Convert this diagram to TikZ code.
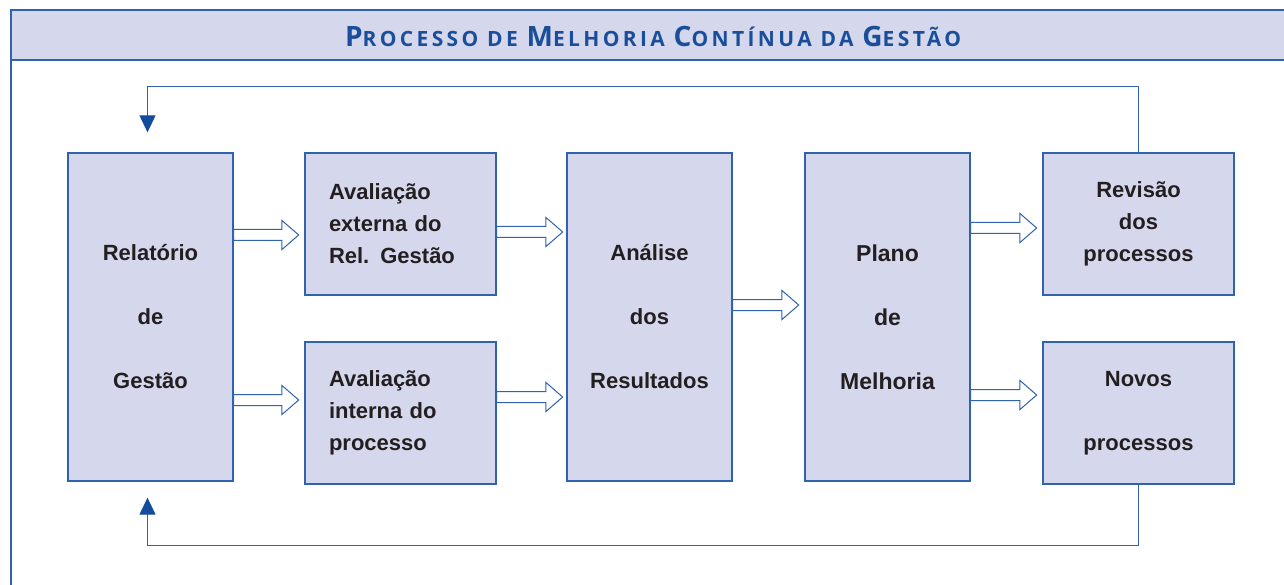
\documentclass[tikz,border=0pt]{standalone}
\usepackage{fontspec}
\setmainfont{Liberation Sans}
\newfontfamily\titlefont{Open Sans}[LetterSpace=16]
\usetikzlibrary{arrows.meta,shapes.arrows}

\definecolor{boxfill}{HTML}{D5D8EC}
\definecolor{boxline}{HTML}{2F63AE}
\definecolor{tipblue}{HTML}{124C9E}
\definecolor{titleblue}{HTML}{1A4E9B}
\definecolor{boxtext}{HTML}{231F20}

\newcommand\capbig[1]{{\fontsize{28}{28}\selectfont #1}}
\newcommand\capsmall[1]{{\fontsize{21}{21}\selectfont #1}}

\begin{document}
\begin{tikzpicture}[x=1pt,y=-1pt,>=Stealth,
    % Define the style for the boxes
    block/.style={rectangle, fill=boxfill, draw=boxline, line width=1.3pt, inner sep=0pt,
        text=boxtext, align=center, font=\bfseries\fontsize{22}{32}\selectfont},
    tall block/.style={block, minimum width=165pt, minimum height=328pt},
    small block/.style={block, minimum width=191pt, minimum height=142pt},
    left block/.style={small block, text width=143pt, align=left},
    % Define the style for the hollow arrows and the feedback lines
    hollow arrow/.style={single arrow, fill=white, draw=boxline, line width=1pt, outer sep=0pt,
        inner xsep=0pt, inner ysep=5pt, minimum width=0pt, minimum height=65pt,
        single arrow head extend=9pt, single arrow tip angle=82, anchor=west},
    loop line/.style={draw=boxline, line width=1.2pt, -{Triangle[length=17pt,width=16pt,color=tipblue]}}
]

% Frame and title band
\clip (0,0) rectangle (1284,585);
\fill[boxfill] (11,10) rectangle (1300,60);
\draw[boxline, line width=1.3pt] (1300,10) -- (11,10) -- (11,600);
\draw[boxline, line width=1.3pt] (11,60) -- (1300,60);
\node[text=titleblue, font=\titlefont\bfseries, anchor=base] (title) at (653,47)
    {\capbig{P}\capsmall{ROCESSO DE }\capbig{M}\capsmall{ELHORIA }\capbig{C}\capsmall{ONTÍNUA DA }\capbig{G}\capsmall{ESTÃO}};

% The boxes of the process
\node[tall block] (rel) at (150.5,317) {Relatório\\[32pt]de\\[32pt]Gestão};
\node[left block] (ext) at (400.5,224) {Avaliação\\externa do\\Rel. Gestão};
\node[left block] (int) at (400.5,413) {Avaliação\\interna do\\processo};
\node[tall block] (ana) at (649.5,317) {Análise\\[32pt]dos\\[32pt]Resultados};
\node[tall block, font=\bfseries\fontsize{23}{32}\selectfont] (plano) at (887.5,317) {Plano\\[32pt]de\\[32pt]Melhoria};
\node[small block] (rev) at (1138.5,224) {Revisão\\dos\\processos};
\node[small block] (novos) at (1138.5,413) {Novos\\[32pt]processos};

% Hollow arrows between the boxes
\node[hollow arrow] (rel-ext) at (rel.east |- 0,235) {};
\node[hollow arrow] (rel-int) at (rel.east |- 0,400) {};
\node[hollow arrow, minimum height=66pt] (ext-ana) at (ext.east |- 0,232) {};
\node[hollow arrow, minimum height=66pt] (int-ana) at (int.east |- 0,397) {};
\node[hollow arrow, minimum height=66pt] (ana-plano) at (ana.east |- 0,305) {};
\node[hollow arrow, minimum height=66pt] (plano-rev) at (plano.east |- 0,228) {};
\node[hollow arrow, minimum height=66pt] (plano-novos) at (plano.east |- 0,395) {};

% Feedback lines back to the report
\draw[loop line] (rev.north) -- ++(0,-66) -| ([xshift=-3pt,yshift=20pt]rel.north);
\draw[loop line] (novos.south) -- ++(0,61) -| ([xshift=-3pt,yshift=-16pt]rel.south);

\end{tikzpicture}
\end{document}
